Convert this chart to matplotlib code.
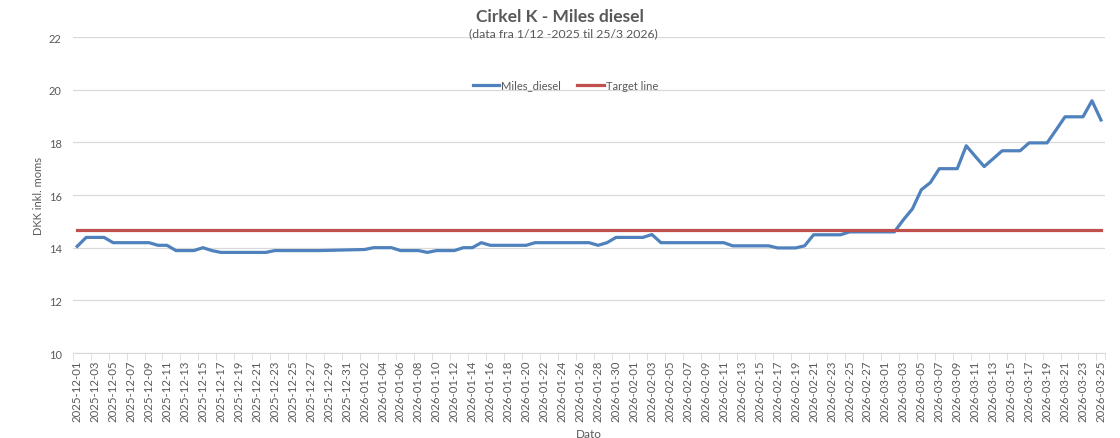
import datetime as dt
import matplotlib
matplotlib.use("Agg")
import matplotlib.pyplot as plt
import matplotlib.dates as mdates

plt.rcParams['font.family'] = ['Lato', 'DejaVu Sans']

# data, no values for 29/12 - 1/1
start = dt.date(2025, 12, 1)
skip = [dt.date(2025, 12, 29), dt.date(2025, 12, 30), dt.date(2025, 12, 31), dt.date(2026, 1, 1)]
dates = [start + dt.timedelta(days=i) for i in range(115)]
dates = [d for d in dates if d not in skip]

miles_diesel = [
    14.05, 14.39, 14.39, 14.39, 14.19, 14.19, 14.19, 14.19, 14.19, 14.09,   # dec 1-10
    14.09, 13.89, 13.89, 13.89, 14.00, 13.89, 13.82, 13.82, 13.82, 13.82,   # dec 11-20
    13.82, 13.82, 13.89, 13.89, 13.89, 13.89, 13.89, 13.89,                 # dec 21-28
    13.93, 14.00, 14.00, 14.00, 13.89, 13.89, 13.89, 13.82, 13.89,          # jan 2-10
    13.89, 13.89, 14.00, 14.00, 14.19, 14.09, 14.09, 14.09, 14.09, 14.09,   # jan 11-20
    14.19, 14.19, 14.19, 14.19, 14.19, 14.19, 14.19, 14.09, 14.19, 14.39,   # jan 21-30
    14.39,                                                                  # jan 31
    14.39, 14.39, 14.50, 14.19, 14.19, 14.19, 14.19, 14.19, 14.19, 14.19,   # feb 1-10
    14.19, 14.07, 14.07, 14.07, 14.07, 14.07, 13.99, 13.99, 13.99, 14.07,   # feb 11-20
    14.49, 14.49, 14.49, 14.49, 14.60, 14.60, 14.60, 14.60,                 # feb 21-28
    14.60, 14.60, 15.06, 15.47, 16.20, 16.47, 17.00, 17.00, 17.00, 17.87,   # mar 1-10
    17.47, 17.08, 17.38, 17.68, 17.68, 17.68, 17.98, 17.98, 17.98, 18.47,   # mar 11-20
    18.97, 18.97, 18.97, 19.58, 18.85,                                      # mar 21-25
]
target = 14.67

grey = '#595959'
x = mdates.date2num(dates)

fig = plt.figure(figsize=(11.2, 4.39), dpi=100)
ax = fig.add_axes([0.0649, 0.1936, 0.9221, 0.7198])

ax.plot(x, miles_diesel, color='#4f81bd', lw=2.3, label='Miles_diesel', solid_joinstyle='round')
ax.plot([x[0], x[-1]], [target, target], color='#c0504d', lw=2.3, label='Target line')

ax.set_xlim(x[0] - 0.5, x[-1] + 0.5)
ax.set_ylim(10, 22)
ax.set_yticks(range(10, 23, 2))

all_days = mdates.date2num([start + dt.timedelta(days=i) for i in range(0, 115, 2)])
ax.set_xticks(all_days)
ax.set_xticklabels([mdates.num2date(d).strftime('%Y-%m-%d') for d in all_days], rotation=90)
ax.set_xticks(list(all_days - 0.5) + [x[-1] + 0.5], minor=True)
ax.tick_params(axis='x', which='major', length=0, pad=5, labelsize=8.2, labelcolor=grey)
ax.tick_params(axis='x', which='minor', length=5, color='#d9d9d9', direction='out')
ax.tick_params(axis='y', length=0, pad=8, labelsize=8, labelcolor=grey)

ax.grid(axis='y', color='#d9d9d9', lw=0.9)
ax.set_axisbelow(True)
for s in ['top', 'right', 'left']:
    ax.spines[s].set_visible(False)
ax.spines['bottom'].set_color('#d9d9d9')

ax.set_ylabel('DKK inkl. moms', fontsize=8, color=grey, labelpad=3)
ax.set_xlabel('Dato', fontsize=8.5, color=grey, labelpad=5)

fig.text(0.5, 0.962, 'Cirkel K - Miles diesel', ha='center', va='center',
         fontsize=12.5, fontweight='bold', color=grey)
fig.text(0.503, 0.922, '(data fra 1/12 -2025 til 25/3 2026)', ha='center', va='center',
         fontsize=8.8, color=grey)

leg = ax.legend(loc='center', bbox_to_anchor=(0.477, 0.848), ncol=2, frameon=False,
                fontsize=8, handlelength=2.4, columnspacing=1.4, handletextpad=0.2)
for t in leg.get_texts():
    t.set_color(grey)

fig.savefig('out.png', dpi=100)
